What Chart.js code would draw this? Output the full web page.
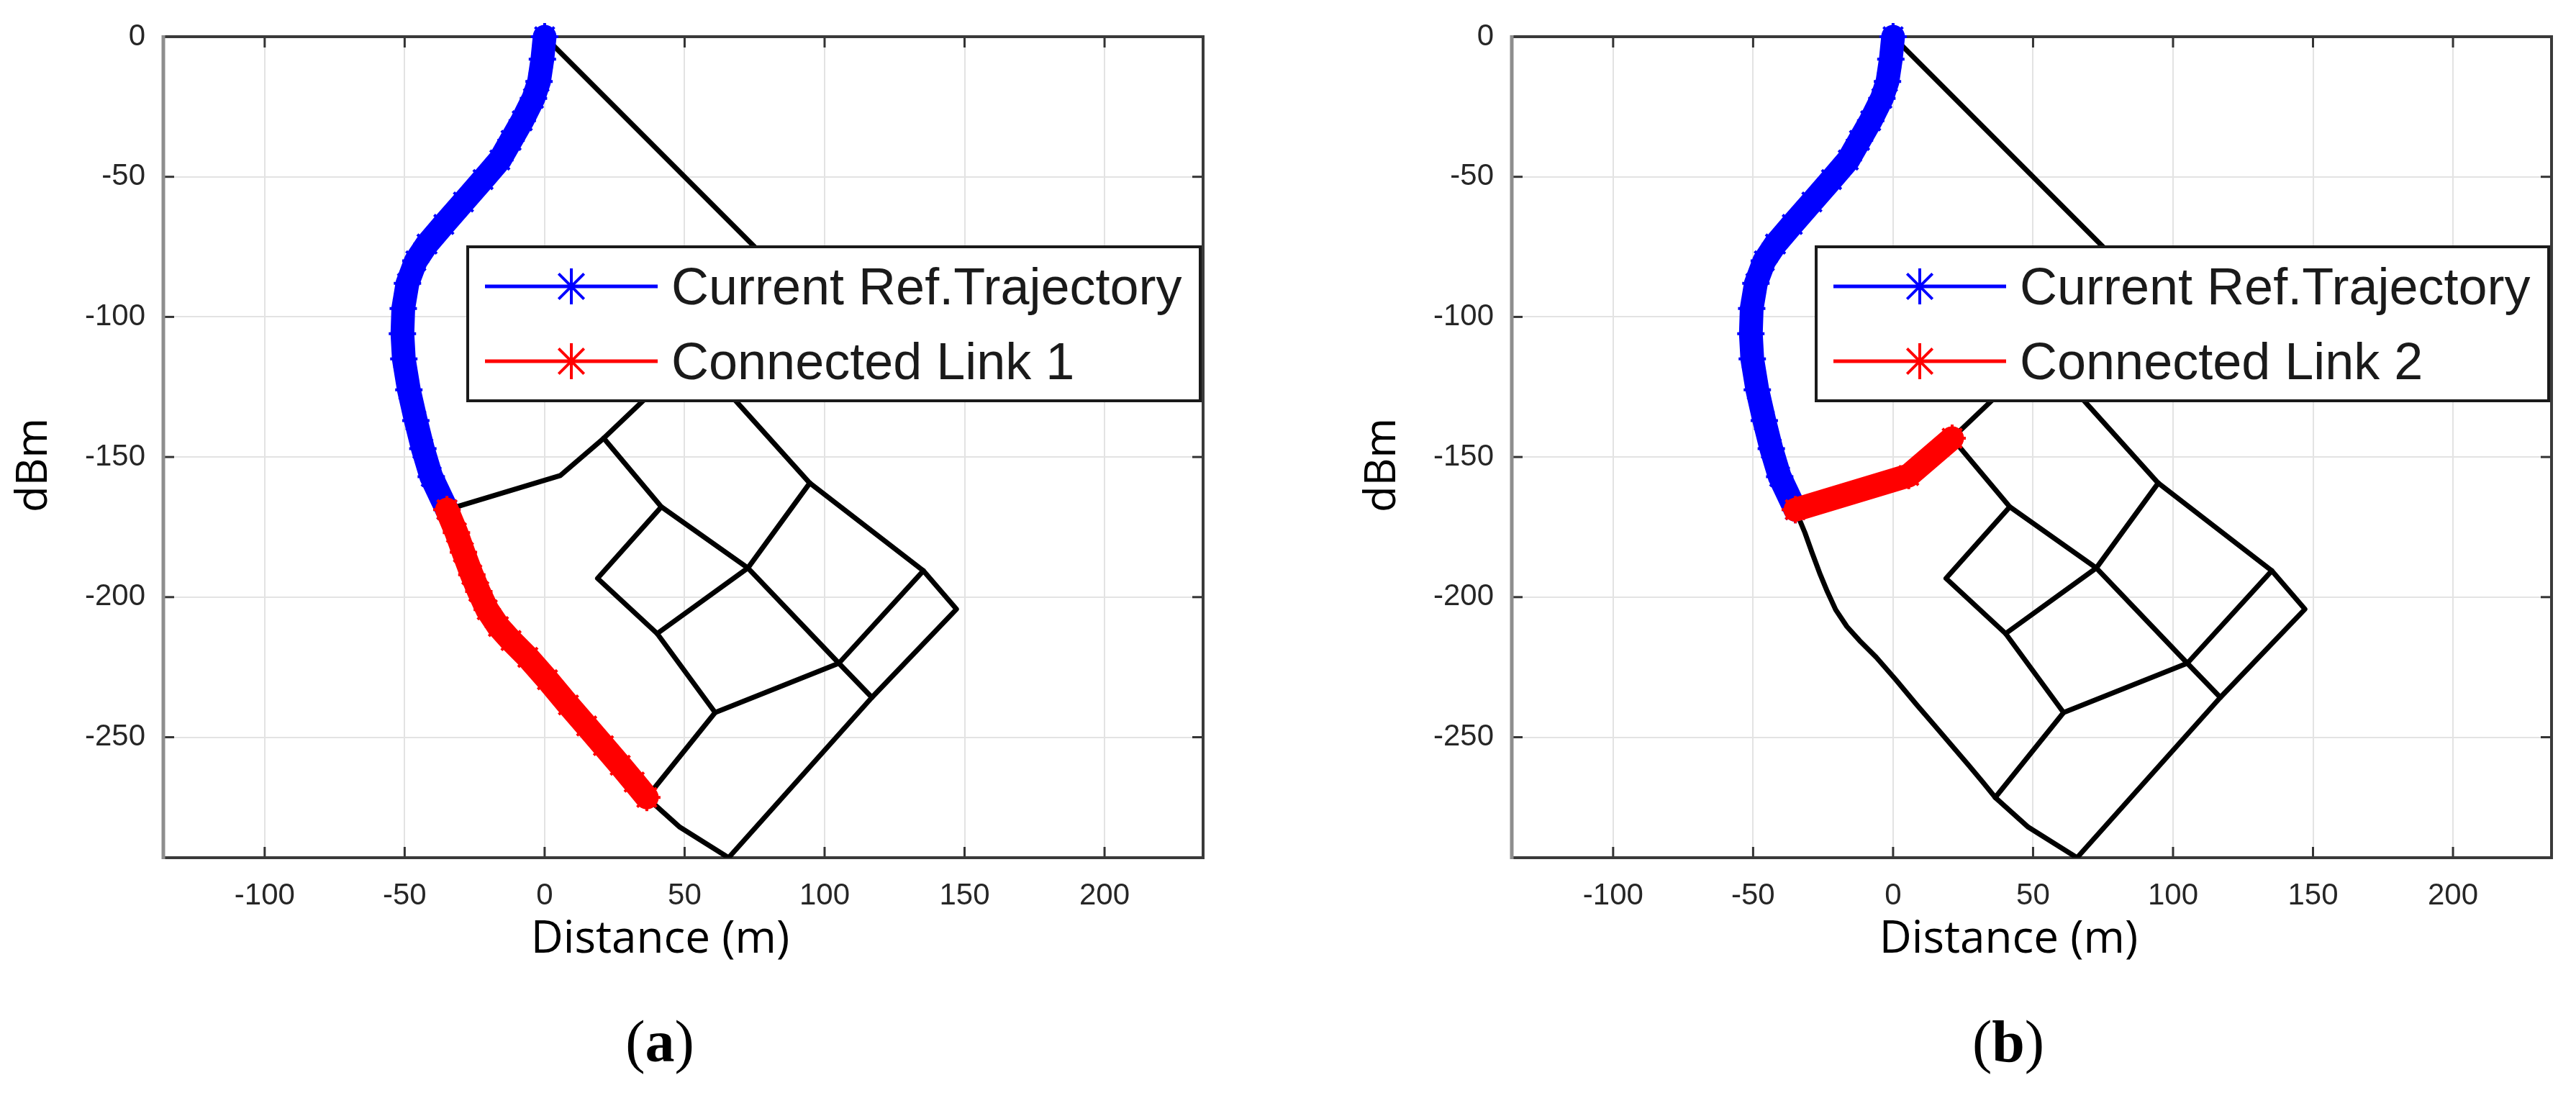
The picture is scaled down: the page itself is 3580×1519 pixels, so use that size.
<!DOCTYPE html>
<html><head><meta charset="utf-8">
<script src="https://cdn.jsdelivr.net/npm/chart.js@4.4.1/dist/chart.umd.min.js"></script>
<style>
html,body{margin:0;padding:0;background:#fff;width:3580px;height:1519px;overflow:hidden;position:relative}
canvas{position:absolute;top:0}
.cap{position:absolute;top:1393px;height:110px;line-height:110px;width:800px;text-align:center;font-family:"Liberation Serif","Times New Roman",serif;font-size:82px;color:#000}
</style></head><body>
<canvas id="ca" width="1706" height="1400" style="left:0"></canvas>
<canvas id="cb" width="1706" height="1400" style="left:1874px"></canvas>
<div class="cap" style="left:517px">(<b>a</b>)</div>
<div class="cap" style="left:2391px">(<b>b</b>)</div>
<script>
// ---- axis ticks / ranges / titles ----
const xTickValues = [-100, -50, 0, 50, 100, 150, 200];
const yTickValues = [0, -50, -100, -150, -200, -250];
const xRange = [-136.2, 235.2];
const yRange = [-293, 0];
const xTitle = 'Distance (m)';
const yTitle = 'dBm';

// ---- legend labels ----
const legendA = ['Current Ref.Trajectory', 'Connected Link 1'];
const legendB = ['Current Ref.Trajectory', 'Connected Link 2'];

// ---- current reference trajectory (blue) ----
const trajX = [0, -0.8, -2, -4, -8, -12, -16, -22, -29, -36, -42, -46, -49, -50.5, -50.8, -50.3, -48.5, -46, -43.5, -40.5, -34.9];
const trajY = [0, -8, -16, -22, -30, -37, -44, -51, -59, -67, -74, -80, -88, -97, -106, -115, -126, -137, -147, -157, -168.8];

// ---- connected link 1 (red, panel a) ----
const link1X = [-34.9, -31.5, -29, -26, -23.5, -20.5, -16.5, -12, -6, 1, 8.5, 15, 21, 27, 32, 36.5];
const link1Y = [-168.8, -177, -184, -192, -198, -204.5, -210.5, -215.5, -221.5, -229.5, -238.5, -246, -253, -260, -266, -271.5];

// ---- connected link 2 (red, panel b) ----
const link2X = [-34.9, 5.6, 21.1];
const link2Y = [-168.8, -156.6, -143.3];

// ---- road network (black) ----
const roadNorthX = [0, 80, 53, 94.7];
const roadNorthY = [0, -80, -113, -159.3];
const roadOuterX = [94.7, 135.3, 147.1, 116.9, 65.7, 48.3, 36.5];
const roadOuterY = [-159.3, -190.6, -204.3, -235.8, -293, -282.1, -271.5];
const roadWestX = [53, 21.1, 5.6, -34.9];
const roadWestY = [-113, -143.3, -156.6, -168.8];
const roadMidAX = [21.1, 41.7, 72.6, 105.1, 116.9];
const roadMidAY = [-143.3, -167.8, -189.6, -223.6, -235.8];
const roadMidBX = [41.7, 18.9, 40.2, 60.9, 36.5];
const roadMidBY = [-167.8, -193.3, -213.0, -241.2, -271.5];
const roadCrossAX = [94.7, 72.6, 40.2];
const roadCrossAY = [-159.3, -189.6, -213.0];
const roadCrossBX = [135.3, 105.1, 60.9];
const roadCrossBY = [-190.6, -223.6, -241.2];
const roadSouthX = link1X;
const roadSouthY = link1Y;

const pts = (xs, ys) => xs.map((x, i) => ({x: x, y: ys[i]}));

const boxPlugin = {
  id: 'matlabBox',
  beforeDatasetsDraw(chart) {
    const ctx = chart.ctx, ca = chart.chartArea, sx = chart.scales.x, sy = chart.scales.y;
    ctx.save();
    ctx.lineCap = 'butt';
    ctx.strokeStyle = '#333';
    ctx.lineWidth = 3;
    const tl = 15;
    xTickValues.forEach(v => {
      const px = sx.getPixelForValue(v);
      ctx.beginPath(); ctx.moveTo(px, ca.bottom); ctx.lineTo(px, ca.bottom - tl); ctx.stroke();
      ctx.beginPath(); ctx.moveTo(px, ca.top); ctx.lineTo(px, ca.top + tl); ctx.stroke();
    });
    yTickValues.forEach(v => {
      const py = sy.getPixelForValue(v);
      ctx.beginPath(); ctx.moveTo(ca.left, py); ctx.lineTo(ca.left + tl, py); ctx.stroke();
      ctx.beginPath(); ctx.moveTo(ca.right, py); ctx.lineTo(ca.right - tl, py); ctx.stroke();
    });
    ctx.strokeStyle = '#3a3a3a';
    ctx.lineWidth = 4;
    ctx.beginPath();
    ctx.moveTo(ca.left, ca.top); ctx.lineTo(ca.right, ca.top); ctx.lineTo(ca.right, ca.bottom); ctx.lineTo(ca.left, ca.bottom);
    ctx.stroke();
    ctx.strokeStyle = '#8e8e8e';
    ctx.lineWidth = 5;
    ctx.beginPath(); ctx.moveTo(ca.left, ca.top - 2); ctx.lineTo(ca.left, ca.bottom + 2); ctx.stroke();
    ctx.restore();
  }
};

const titlePlugin = {
  id: 'axisTitles',
  afterDraw(chart) {
    const ctx = chart.ctx, ca = chart.chartArea;
    ctx.save();
    ctx.fillStyle = '#000';
    ctx.textAlign = 'center';
    ctx.textBaseline = 'middle';
    ctx.font = '62px "Open Sans", "Noto Sans", sans-serif';
    ctx.fillText(xTitle, (ca.left + ca.right) / 2 - 32, ca.bottom + 114);
    ctx.translate(ca.left - 179, (ca.top + ca.bottom) / 2 + 25);
    ctx.rotate(-Math.PI / 2);
    ctx.font = '60px "Open Sans", "Noto Sans", sans-serif';
    ctx.fillText(yTitle, 0, 0);
    ctx.restore();
  }
};

const legendPlugin = {
  id: 'boxLegend',
  afterDraw(chart) {
    const ctx = chart.ctx, ca = chart.chartArea;
    const L = ca.left + 423, R = ca.right - 4, T = ca.top + 292, B = ca.top + 506;
    ctx.save();
    ctx.fillStyle = '#fff';
    ctx.fillRect(L, T, R - L, B - T);
    ctx.lineWidth = 4;
    ctx.strokeStyle = '#1a1a1a';
    ctx.strokeRect(L, T, R - L, B - T);
    const rows = [{y: T + 55, ds: chart.data.datasets[0]}, {y: T + 159, ds: chart.data.datasets[1]}];
    rows.forEach(r => {
      ctx.strokeStyle = r.ds.borderColor;
      ctx.fillStyle = r.ds.borderColor;
      ctx.lineWidth = 5;
      ctx.lineCap = 'butt';
      ctx.beginPath(); ctx.moveTo(L + 24, r.y); ctx.lineTo(L + 264, r.y); ctx.stroke();
      ctx.lineWidth = 4;
      Chart.helpers.drawPoint(ctx, {pointStyle: 'star', radius: 25, borderWidth: 4, rotation: 0}, L + 144, r.y);
      ctx.fillStyle = '#1a1a1a';
      ctx.font = '72px "Liberation Sans", Arial, sans-serif';
      ctx.textBaseline = 'middle';
      ctx.textAlign = 'left';
      ctx.fillText(r.ds.label, L + 283, r.y + 5);
    });
    ctx.restore();
  }
};

function makeChart(id, linkX, linkY, labels) {
  const black = (xs, ys) => ({
    label: '', data: pts(xs, ys), showLine: true, borderColor: '#000', backgroundColor: '#000',
    borderWidth: 7, pointRadius: 0, borderJoinStyle: 'round', borderCapStyle: 'round', order: 3
  });
  const thick = (label, xs, ys, color, order) => ({
    label: label, data: pts(xs, ys), showLine: true, borderColor: color, backgroundColor: color,
    borderWidth: 33, pointStyle: 'star', pointRadius: 19, pointBorderWidth: 4,
    pointBorderColor: color, pointBackgroundColor: color,
    borderJoinStyle: 'round', borderCapStyle: 'round', clip: false, order: order
  });
  const tickFont = {family: '"Liberation Sans", Arial, sans-serif', size: 42};
  return new Chart(document.getElementById(id), {
    type: 'scatter',
    data: {
      datasets: [
        thick(labels[0], trajX, trajY, '#0000ff', 1),
        thick(labels[1], linkX, linkY, '#ff0000', 0),
        black(roadNorthX, roadNorthY),
        black(roadOuterX, roadOuterY),
        black(roadWestX, roadWestY),
        black(roadMidAX, roadMidAY),
        black(roadMidBX, roadMidBY),
        black(roadCrossAX, roadCrossAY),
        black(roadCrossBX, roadCrossBY),
        black(roadSouthX, roadSouthY)
      ]
    },
    options: {
      responsive: false,
      animation: false,
      devicePixelRatio: 1,
      layout: {padding: {left: 0, right: 34, top: 51, bottom: 0}},
      plugins: {legend: {display: false}, tooltip: {enabled: false}},
      events: [],
      scales: {
        x: {
          type: 'linear', min: xRange[0], max: xRange[1],
          afterBuildTicks: s => { s.ticks = xTickValues.map(v => ({value: v})); },
          afterFit: s => { s.height = 208; s.paddingLeft = 0; s.paddingRight = 0; },
          grid: {color: '#e3e3e3', lineWidth: 2, drawTicks: false},
          border: {display: false},
          ticks: {font: tickFont, color: '#262626', padding: 28, maxRotation: 0, autoSkip: false, callback: v => String(v)},
          title: {display: false, text: xTitle}
        },
        y: {
          type: 'linear', min: yRange[0], max: yRange[1],
          afterBuildTicks: s => { s.ticks = yTickValues.map(v => ({value: v})); },
          afterFit: s => { s.width = 227; s.paddingTop = 0; s.paddingBottom = 0; },
          grid: {color: '#e3e3e3', lineWidth: 2, drawTicks: false},
          border: {display: false},
          ticks: {font: tickFont, color: '#262626', padding: 25, autoSkip: false, callback: v => String(v)},
          title: {display: false, text: yTitle}
        }
      }
    },
    plugins: [boxPlugin, titlePlugin, legendPlugin]
  });
}

makeChart('ca', link1X, link1Y, legendA);
makeChart('cb', link2X, link2Y, legendB);
</script>
</body></html>
